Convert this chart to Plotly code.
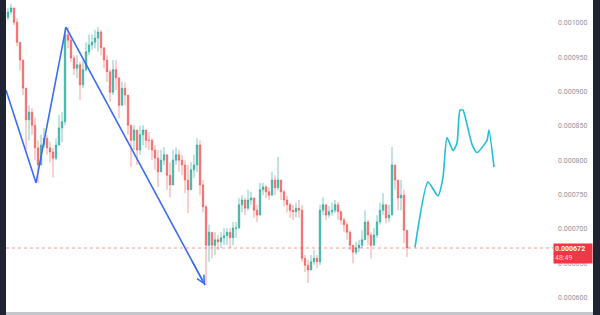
import plotly.graph_objects as go

# Prices are listed in millionths (1e-6) of the quote currency
UNIT = 1e-6

first_open_e6 = 1008
close_e6 = [1016, 1022, 1001, 972, 946, 905, 859, 870, 851, 818,
            793, 822, 832, 818, 812, 803, 822, 847, 856, 983,
            975, 949, 934, 939, 910, 932, 958, 968, 972, 978,
            987, 964, 946, 929, 899, 932, 920, 880, 905, 895,
            851, 829, 844, 815, 837, 844, 829, 829, 815, 803,
            783, 800, 808, 778, 764, 800, 808, 800, 793, 771,
            757, 786, 793, 822, 764, 732, 676, 695, 676, 684,
            681, 687, 690, 695, 687, 701, 701, 735, 742, 730,
            742, 745, 727, 720, 757, 761, 754, 749, 771, 760,
            771, 754, 742, 735, 727, 725, 730, 727, 657, 647,
            640, 652, 657, 652, 727, 735, 720, 725, 727, 735,
            725, 713, 706, 695, 676, 666, 672, 676, 684, 710,
            691, 676, 691, 710, 727, 735, 716, 720, 793, 771,
            745, 749, 698, 672]
high_e6 = [1022, 1028, 1019, 1007, 968, 939, 888, 880, 876, 862,
           829, 837, 847, 837, 827, 818, 832, 866, 870, 993,
           993, 981, 953, 953, 943, 946, 972, 983, 983, 990,
           994, 990, 961, 953, 932, 946, 946, 910, 914, 913,
           880, 851, 851, 837, 850, 851, 844, 841, 832, 822,
           815, 815, 819, 808, 797, 815, 818, 815, 808, 800,
           793, 797, 808, 832, 829, 771, 735, 706, 691, 695,
           691, 695, 701, 701, 701, 710, 710, 745, 749, 745,
           757, 754, 745, 735, 767, 767, 764, 760, 783, 778,
           805, 771, 757, 748, 738, 735, 738, 742, 735, 662,
           655, 662, 669, 662, 735, 746, 735, 733, 738, 742,
           739, 727, 716, 710, 698, 676, 681, 684, 698, 727,
           713, 695, 701, 720, 738, 752, 727, 735, 819, 789,
           764, 771, 757, 684]
low_e6 = [1004, 1012, 997, 966, 931, 895, 815, 829, 837, 800,
          767, 793, 818, 808, 797, 775, 800, 829, 826, 851,
          963, 943, 924, 920, 888, 905, 929, 953, 961, 963,
          958, 953, 934, 914, 885, 895, 902, 861, 888, 880,
          837, 790, 815, 793, 808, 822, 818, 815, 800, 786,
          761, 789, 793, 757, 746, 786, 793, 783, 778, 752,
          723, 768, 774, 783, 749, 724, 618, 652, 657, 662,
          669, 672, 676, 676, 672, 676, 687, 706, 724, 720,
          727, 735, 716, 710, 742, 749, 745, 742, 754, 749,
          757, 742, 733, 724, 716, 713, 717, 716, 652, 637,
          621, 640, 647, 643, 647, 720, 713, 716, 719, 723,
          713, 706, 695, 684, 669, 650, 662, 666, 672, 695,
          676, 657, 676, 687, 706, 720, 708, 710, 720, 757,
          727, 727, 679, 659]

# Drawn zig-zag (bar index, price e6)
zig_x = [-0.67, 9.33, 19.33, 65.67]
zig_y_e6 = [902, 767, 994, 618]

# Projected path (bar index, price e6)
proj_x = [135.67, 140.0, 143.33, 145.0, 146.33, 148.33, 149.67, 150.67,
          151.67, 153.0, 154.67, 156.33, 159.67, 160.33, 162.0]
proj_y_e6 = [673, 768, 748, 775, 833, 814, 825, 873, 873, 852, 823, 811,
             829, 844, 790]

last_price = 0.000672
countdown = "48:49"
tick_vals_e6 = [600, 650, 700, 750, 800, 850, 900, 950, 1000]

# ---- build OHLC table ----
n = len(close_e6)
bars = list(range(n))
opens = [first_open_e6] + close_e6[:-1]
o = [v * UNIT for v in opens]
c = [v * UNIT for v in close_e6]
h = [max(a, b, d) * UNIT for a, b, d in zip(high_e6, opens, close_e6)]
l = [min(a, b, d) * UNIT for a, b, d in zip(low_e6, opens, close_e6)]

fig = go.Figure()
fig.add_trace(go.Candlestick(
    x=bars, open=o, high=h, low=l, close=c,
    increasing=dict(fillcolor="rgba(38,166,154,0.85)", line=dict(color="rgba(38,166,154,0.6)", width=1)),
    decreasing=dict(fillcolor="rgba(239,83,80,0.85)", line=dict(color="rgba(239,83,80,0.55)", width=1)),
    whiskerwidth=0, hoverinfo="skip", showlegend=False,
))

fig.add_trace(go.Scatter(
    x=zig_x, y=[v * UNIT for v in zig_y_e6], mode="lines",
    line=dict(color="#3a6cf4", width=1.6), hoverinfo="skip", showlegend=False,
))

fig.add_trace(go.Scatter(
    x=proj_x, y=[v * UNIT for v in proj_y_e6], mode="lines",
    line=dict(color="#1fbfd8", width=1.6, shape="spline", smoothing=0.55),
    hoverinfo="skip", showlegend=False,
))

# arrowhead at the end of the zig-zag
fig.add_annotation(
    x=zig_x[-1], y=zig_y_e6[-1] * UNIT, xref="x", yref="y",
    ax=zig_x[-2] + (zig_x[-1] - zig_x[-2]) * 0.9,
    ay=(zig_y_e6[-2] + (zig_y_e6[-1] - zig_y_e6[-2]) * 0.9) * UNIT,
    axref="x", ayref="y", showarrow=True, arrowhead=5, arrowsize=1.1,
    arrowwidth=1.4, arrowcolor="#3a6cf4", text="",
)

# last price dotted line
fig.add_shape(type="line", xref="paper", yref="y", x0=0, x1=(553 - 6) / 544,
              y0=last_price, y1=last_price,
              line=dict(color="rgba(242,54,69,0.5)", width=1, dash="dot"))

# price label
fig.add_annotation(
    xref="paper", yref="y", x=(553 - 6) / 544, y=last_price, xanchor="left",
    yanchor="top", yshift=5,
    text=f"<b>{last_price:.6f}</b><br><span style='color:#ffd9dc'>{countdown}</span>",
    showarrow=False, align="left", bgcolor="#f23645", width=36, height=17,
    borderpad=1, font=dict(color="white", size=7, family="Roboto"),
)

# frame pieces (dark side borders, bottom bar)
fig.add_shape(type="rect", xref="paper", yref="paper", x0=-6 / 544, x1=0,
              y0=-4 / 311, y1=1, fillcolor="#1f2430", line=dict(width=0), layer="above")
fig.add_shape(type="rect", xref="paper", yref="paper", x0=(593 - 6) / 544,
              x1=(600 - 6) / 544, y0=-4 / 311, y1=1, fillcolor="#1f2430",
              line=dict(width=0), layer="above")
fig.add_shape(type="rect", xref="paper", yref="paper", x0=0, x1=(593 - 6) / 544,
              y0=-4 / 311, y1=-1 / 311, fillcolor="#c3c6cc",
              line=dict(width=0), layer="above")

fig.update_layout(
    width=600, height=315,
    margin=dict(l=6, r=50, t=0, b=4),
    paper_bgcolor="white", plot_bgcolor="white",
    xaxis=dict(visible=False, range=[-0.67, 180.67], rangeslider=dict(visible=False)),
    yaxis=dict(side="right", range=[580.2 * UNIT, 1033.5 * UNIT],
               tickvals=[v * UNIT for v in tick_vals_e6], tickformat=".6f",
               showgrid=False, zeroline=False, ticks="", ticklabelstandoff=7,
               tickfont=dict(size=7, color="#8f939d", family="Roboto")),
    showlegend=False,
)

fig.write_html("out.html", config={"displayModeBar": False})
